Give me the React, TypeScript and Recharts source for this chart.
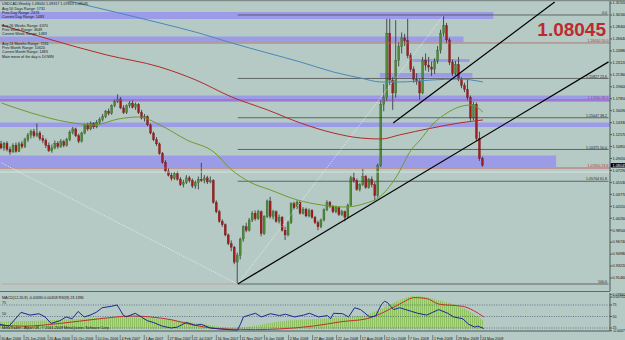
import React from 'react';
import { ComposedChart, Bar, Line, Area, XAxis, YAxis, ReferenceLine, ReferenceArea } from 'recharts';

const BG = '#b6cac5';
const FONT = 'Liberation Sans, Arial, sans-serif';
const TOTAL = 204;

const dateLabels = ['30 Apr 2006', '25 Jun 2006', '20 Aug 2006', '15 Oct 2006', '10 Dec 2006', '4 Feb 2007', '1 Apr 2007', '27 May 2007', '22 Jul 2007', '16 Sep 2007', '11 Nov 2007', '6 Jan 2008', '2 Mar 2008', '27 Apr 2008', '22 Jun 2008', '17 Aug 2008', '12 Oct 2008', '7 Dec 2008', '1 Feb 2009', '29 Mar 2009', '24 May 2009'];

const opens = [1.1120,1.1060,1.1130,1.1040,1.1000,1.1100,1.1010,1.1120,1.1080,1.1180,
1.1250,1.1300,1.1240,1.1280,1.1200,1.1170,1.1100,1.1020,1.1060,1.1130,
1.1080,1.1150,1.1100,1.1180,1.1290,1.1340,1.1240,1.1160,1.1280,1.1400,
1.1340,1.1420,1.1370,1.1440,1.1480,1.1520,1.1600,1.1570,1.1680,1.1740,
1.1780,1.1650,1.1580,1.1680,1.1720,1.1660,1.1700,1.1580,1.1500,1.1520,
1.1400,1.1280,1.1180,1.1120,1.0980,1.0850,1.0720,1.0660,1.0610,1.0680,
1.0600,1.0520,1.0550,1.0620,1.0580,1.0500,1.0550,1.0600,1.0580,1.0620,
1.0560,1.0580,1.0260,1.0120,0.9980,0.9930,0.9780,0.9650,0.9600,0.9380,
0.9480,0.9720,0.9900,0.9850,1.0000,1.0100,1.0020,1.0120,0.9800,1.0050,
1.0280,1.0050,1.0120,0.9980,1.0040,0.9850,0.9780,0.9960,1.0240,1.0180,
1.0260,1.0100,1.0160,1.0060,1.0140,1.0040,0.9960,0.9900,1.0000,1.0150,
1.0260,1.0200,1.0120,1.0180,1.0080,1.0120,1.0040,1.0220,1.0620,1.0580,
1.0450,1.0520,1.0640,1.0480,1.0600,1.0520,1.0360,1.0800,1.1700,1.1800,
1.2750,1.2060,1.1870,1.2350,1.2550,1.2680,1.2640,1.2420,1.2220,1.2070,
1.2040,1.1870,1.2350,1.2280,1.2250,1.2220,1.2340,1.2500,1.2750,1.2860,
1.2650,1.2320,1.2160,1.2290,1.2070,1.1980,1.1920,1.1800,1.1500,1.1700,
1.1200,1.0904];

const highs = [1.1165,1.1150,1.1160,1.1080,1.1130,1.1140,1.1150,1.1160,1.1210,1.1280,
1.1330,1.1340,1.1420,1.1310,1.1250,1.1200,1.1140,1.1110,1.1170,1.1160,
1.1190,1.1180,1.1210,1.1320,1.1370,1.1360,1.1270,1.1300,1.1420,1.1430,
1.1450,1.1440,1.1470,1.1510,1.1560,1.1620,1.1640,1.1700,1.1770,1.1850,
1.1810,1.1690,1.1700,1.1750,1.1760,1.1730,1.1720,1.1620,1.1560,1.1540,
1.1420,1.1300,1.1220,1.1140,1.1000,1.0880,1.0760,1.0700,1.0710,1.0720,
1.0630,1.0590,1.0660,1.0650,1.0610,1.0580,1.0640,1.0840,1.0660,1.0650,
1.0640,1.0600,1.0290,1.0150,1.0010,0.9950,0.9800,0.9700,0.9620,0.9520,
0.9740,0.9920,0.9960,1.0030,1.0130,1.0140,1.0150,1.0140,1.0070,1.0300,
1.0340,1.0150,1.0140,1.0080,1.0060,0.9900,0.9990,1.0260,1.0270,1.0290,
1.0280,1.0190,1.0180,1.0170,1.0160,1.0060,0.9990,1.0020,1.0170,1.0290,
1.0280,1.0220,1.0210,1.0200,1.0150,1.0140,1.0240,1.0650,1.0700,1.0610,
1.0540,1.0750,1.0660,1.0620,1.0640,1.0560,1.0830,1.1760,1.2000,1.2960,
1.2960,1.2100,1.2940,1.2620,1.2760,1.2740,1.2960,1.2460,1.2260,1.2160,
1.2080,1.2400,1.2450,1.2400,1.2330,1.2380,1.2560,1.2800,1.3017,1.2900,
1.2680,1.2360,1.2340,1.2400,1.2100,1.2020,1.2060,1.1830,1.1740,1.1730,
1.1300,1.09317];

const lows = [1.1040,1.1020,1.1010,1.0960,1.0990,1.0990,1.1000,1.1050,1.1060,1.1150,
1.1200,1.1210,1.1220,1.1170,1.1130,1.1060,1.1000,1.0990,1.1040,1.1050,
1.1060,1.1070,1.1080,1.1160,1.1260,1.1220,1.1130,1.1140,1.1260,1.1310,
1.1320,1.1340,1.1350,1.1410,1.1450,1.1500,1.1540,1.1550,1.1660,1.1720,
1.1630,1.1560,1.1560,1.1650,1.1640,1.1620,1.1560,1.1480,1.1450,1.1380,
1.1260,1.1160,1.1090,1.0960,1.0830,1.0700,1.0640,1.0580,1.0590,1.0580,
1.0500,1.0480,1.0530,1.0550,1.0470,1.0460,1.0450,1.0560,1.0540,1.0530,
1.0540,1.0240,1.0100,0.9960,0.9900,0.9760,0.9630,0.9540,0.9350,0.9058,
0.9420,0.9680,0.9820,0.9830,0.9970,0.9990,1.0000,0.9760,0.9780,1.0030,
1.0020,1.0010,0.9960,0.9950,0.9830,0.9706,0.9760,0.9940,1.0150,1.0160,
1.0080,1.0080,1.0040,1.0040,1.0020,0.9940,0.9850,0.9880,0.9980,1.0130,
1.0180,1.0100,1.0100,1.0060,1.0060,0.9980,1.0020,1.0200,1.0550,1.0430,
1.0420,1.0500,1.0460,1.0460,1.0480,1.0290,1.0330,1.0780,1.1600,1.1750,
1.1980,1.1620,1.1800,1.2260,1.2450,1.2560,1.2380,1.2180,1.2020,1.1990,
1.1770,1.1850,1.2200,1.2180,1.2120,1.2150,1.2300,1.2450,1.2700,1.2600,
1.2280,1.2120,1.2130,1.2040,1.1940,1.1880,1.1760,1.1460,1.1470,1.1160,
1.0870,1.07833];

const closes = [1.1060,1.1130,1.1040,1.1000,1.1100,1.1010,1.1120,1.1080,1.1180,1.1250,
1.1300,1.1240,1.1280,1.1200,1.1170,1.1100,1.1020,1.1060,1.1130,1.1080,
1.1150,1.1100,1.1180,1.1290,1.1340,1.1240,1.1160,1.1280,1.1400,1.1340,
1.1420,1.1370,1.1440,1.1480,1.1520,1.1600,1.1570,1.1680,1.1740,1.1780,
1.1650,1.1580,1.1680,1.1720,1.1660,1.1700,1.1580,1.1500,1.1520,1.1400,
1.1280,1.1180,1.1120,1.0980,1.0850,1.0720,1.0660,1.0610,1.0680,1.0600,
1.0520,1.0550,1.0620,1.0580,1.0500,1.0550,1.0600,1.0580,1.0620,1.0560,
1.0580,1.0260,1.0120,0.9980,0.9930,0.9780,0.9650,0.9600,0.9380,0.9480,
0.9720,0.9900,0.9850,1.0000,1.0100,1.0020,1.0120,0.9800,1.0050,1.0280,
1.0050,1.0120,0.9980,1.0040,0.9850,0.9780,0.9960,1.0240,1.0180,1.0260,
1.0100,1.0160,1.0060,1.0140,1.0040,0.9960,0.9900,1.0000,1.0150,1.0260,
1.0200,1.0120,1.0180,1.0080,1.0120,1.0040,1.0220,1.0620,1.0580,1.0450,
1.0520,1.0640,1.0480,1.0600,1.0520,1.0360,1.0800,1.1700,1.1800,1.2750,
1.2060,1.1870,1.2350,1.2550,1.2680,1.2640,1.2420,1.2220,1.2070,1.2040,
1.1870,1.2350,1.2280,1.2250,1.2220,1.2340,1.2500,1.2750,1.2860,1.2650,
1.2320,1.2160,1.2290,1.2070,1.1980,1.1920,1.1800,1.1500,1.1700,1.1200,
1.0904,1.08045];

// moving averages: [week index, price]
const blueMA: [number, number][] = [[0,1.346],[21,1.3238],[53,1.2899],[66,1.2752],[77,1.2605],[89,1.2458],[100,1.2325],[111,1.2178],[120,1.2090],[127,1.2031],[133,1.2031],[144,1.2060],[153,1.2075],[161,1.2031]];
const redMA: [number, number][] = [[0,1.2870],[16,1.2660],[35,1.2430],[53,1.2251],[65,1.2060],[77,1.1810],[89,1.1619],[100,1.1427],[111,1.1280],[120,1.1207],[127,1.1192],[133,1.1251],[144,1.1354],[153,1.1427],[161,1.1472]];
const oliveMA: [number, number][] = [[0,1.1722],[10,1.1575],[22,1.1442],[31,1.1398],[39,1.1486],[46,1.1516],[53,1.1398],[62,1.1177],[71,1.1001],[77,1.0736],[83,1.0559],[90,1.0441],[99,1.0294],[107,1.0221],[115,1.0191],[122,1.0250],[126,1.0324],[132,1.0633],[137,1.1030],[140,1.1177],[144,1.1398],[149,1.1575],[153,1.1663],[157,1.1692],[161,1.1589]];

// lower pane
const rsiPts: [number, number][] = [[0,33],[3,29],[7,59],[10,53],[13,56],[15,49],[17,35],[20,41],[22,49],[24,45],[26,61],[28,49],[30,53],[32,59],[34,69],[37,72],[39,75],[41,53],[42,49],[45,57],[47,49],[49,41],[51,37],[54,29],[57,25],[59,27],[62,37],[65,31],[67,33],[70,25],[73,23],[75,22],[79,20],[80,33],[81,49],[83,53],[85,57],[87,49],[90,56],[93,52],[95,55],[98,49],[101,53],[103,57],[106,49],[109,52],[110,45],[111,57],[114,56],[116,49],[118,69],[120,65],[123,49],[125,51],[127,77],[128,83],[129,80],[130,72],[131,65],[133,69],[137,61],[139,57],[142,53],[144,59],[146,65],[149,57],[151,49],[154,45],[156,33],[158,27],[159,29],[161,24]];
const signalPts: [number, number][] = [[0,31],[8,29],[20,35],[33,45],[44,51],[50,49],[57,43],[64,32],[72,24],[80,22],[85,21.5],[93,23],[104,29],[114,39],[122,45],[127,57],[133,77],[138,91],[142,89],[146,77],[154,72],[161,49]];
const histPts: [number, number][] = [[0,39],[13,41],[26,45],[40,49],[53,45],[66,35],[78,25],[82,27],[93,39],[106,45],[120,51],[126,64],[133,85],[138,95],[146,85],[154,69],[161,41]];

const priceTicks = [0.9146,0.9322,0.9498,0.9674,0.9850,1.0026,1.0201,1.0377,1.0553,1.0729,1.0905,1.1081,1.1257,1.1433,1.1609,1.1785,1.1960,1.2136,1.2312,1.2488,1.2664,1.2840,1.3016,1.3192];
const subTicks = [19, 25, 50, 75, 92, 98];
const subTickText = ['-0.0447', '25', '50', '75', '0.00702', '0.07660'];

const bands = [
  { x1: 0, x2: 164, p1: 1.2958, p2: 1.3061 },
  { x1: 0, x2: 154, p1: 1.2620, p2: 1.2700 },
  { x1: 138, x2: 156, p1: 1.2325, p2: 1.2369 },
  { x1: 127, x2: 157, p1: 1.2097, p2: 1.2163 },
  { x1: null, x2: null, p1: 1.1736, p2: 1.1832 },
  { x1: null, x2: null, p1: 1.1369, p2: 1.1435 },
  { x1: 0, x2: 185, p1: 1.0780, p2: 1.0949 },
];

const fibLevels = [
  { p: 1.3017, t: '0.0' },
  { p: 1.2083, t: '1.20827  23.6' },
  { p: 1.1505, t: '1.15047  38.2' },
  { p: 1.1038, t: '1.10375  50.0' },
  { p: 1.0570, t: '1.05704  61.8' },
  { p: 0.9058, t: '100.0' },
];
const fibStart = 79;
const fibEnd = 203;

const extraLines = [
  { p: 1.2605, stroke: '#a86060', t: '1.26050  50.0', tc: '#b02a2a' },
  { p: 1.1766, stroke: '#a048a8', t: '1.17660  38.2', tc: '#9a3a9a' },
  { p: 1.0765, stroke: '#c05050', t: '1.07650  23.6', tc: '#c02a2a' },
  { p: 1.0706, stroke: '#e2e6e6', t: '', tc: '#333' },
];

const trendLines: [number, number, number, number][] = [
  [79, 0.9058, 203, 1.2327],
  [131, 1.1427, 185, 1.3209],
];
const dottedLines: [number, number, number, number][] = [
  [0, 1.084, 79, 0.9058],
  [79, 0.9058, 148, 1.3017],
];

const lastPrice = 1.08045;

const infoLines = [
  { y: 4.5, t: 'USDCAD,Weekly  1.09040 1.09317 1.07833 1.08045' },
  { y: 9.5, t: 'Avg 50 Days Range: 1731' },
  { y: 13.8, t: 'Prev Day Range: 2676' },
  { y: 18, t: 'Current Day Range: 1483' },
  { y: 26.5, t: 'Avg 26 Weeks Range: 6370' },
  { y: 30.8, t: 'Prev Week Range: 4649' },
  { y: 35.2, t: 'Current Week Range: 1483' },
  { y: 44.5, t: 'Avg 24 Months Range: 7231' },
  { y: 48.8, t: 'Prev Month Range: 10620' },
  { y: 53.2, t: 'Current Month Range: 1483' },
  { y: 57.8, t: 'Main move of the day is DOWN' },
];

const toMap = (pts: [number, number][]) => {
  const m: Record<number, number> = {};
  pts.forEach(([i, v]) => { m[i] = v; });
  return m;
};
const bm = toMap(blueMA), rm = toMap(redMA), om = toMap(oliveMA);
const rsm = toMap(rsiPts), sgm = toMap(signalPts), hm = toMap(histPts);

const rows = Array.from({ length: TOTAL }, (_, i) => ({
  i,
  o: opens[i], h: highs[i], l: lows[i], c: closes[i],
  blue: bm[i], red: rm[i], olive: om[i],
  rsi: rsm[i], sig: sgm[i], hist: hm[i],
}));

const Candle = (props: any) => {
  const { x, y, width, height, payload } = props;
  if (!payload || payload.o == null || x == null) return null;
  const { o, h, l, c } = payload;
  const top = Math.min(y, y + height);
  const bot = Math.max(y, y + height);
  const span = h - l;
  const py = (v: number) => (span === 0 ? top : top + ((h - v) / span) * (bot - top));
  const cx = x + width / 2;
  const up = c >= o;
  const bt = py(Math.max(o, c));
  const bb = py(Math.min(o, c));
  return (
    <g>
      <line x1={cx} x2={cx} y1={top} y2={bot} stroke="#2e2e2e" strokeWidth={0.8} />
      <rect x={x} y={bt} width={width} height={Math.max(0.8, bb - bt)} fill={up ? '#4e8a36' : '#a21d1d'} stroke={up ? '#2f5a22' : '#6a1010'} strokeWidth={0.3} />
    </g>
  );
};

const rightLabel = (text: string, color: string) => (props: any) => {
  const vb = props.viewBox;
  if (!vb || !text) return null;
  return (
    <text x={vb.x + vb.width - 1.5} y={vb.y - 0.8} textAnchor="end" fontSize={3.6} fill={color} fontFamily={FONT}>{text}</text>
  );
};

const priceTag = (props: any) => {
  const vb = props.viewBox;
  if (!vb) return null;
  const x = vb.x + vb.width;
  return (
    <g>
      <rect x={x + 0.5} y={vb.y - 2.2} width={16} height={4.4} fill="#000" />
      <text x={x + 2.5} y={vb.y + 1.4} fontSize={3.8} fill="#fff" fontFamily={FONT}>{lastPrice.toFixed(5)}</text>
    </g>
  );
};

const leftLabel = (text: string) => (props: any) => {
  const vb = props.viewBox;
  if (!vb) return null;
  return <text x={vb.x + 2} y={vb.y - 1} fontSize={3.8} fill="#1a2a4a" fontFamily={FONT}>{text}</text>;
};

const DateTick = (props: any) => {
  const { x, y, payload } = props;
  const i = Number(payload && payload.value);
  if (!(i % 8 === 0) || i / 8 >= dateLabels.length) return null;
  return (
    <g>
      <line x1={x} x2={x} y1={y + 2} y2={y + 7.5} stroke="#333" strokeWidth={0.5} />
      <text x={x + 1.2} y={y + 7.2} fontSize={3.7} fill="#111" fontFamily={FONT}>{dateLabels[i / 8]}</text>
    </g>
  );
};

export default function App() {
  return (
    <div style={{ position: 'absolute', left: 0, top: 0, width: 625, height: 340, background: BG, overflow: 'hidden', pointerEvents: 'none' }}>
      <div style={{ position: 'absolute', left: 0, top: 0 }}>
        <ComposedChart width={625} height={291} data={rows} margin={{ top: 0, right: 0, bottom: 0, left: 0 }}>
          <XAxis dataKey="i" type="category" hide />
          <YAxis
            orientation="right"
            width={15}
            type="number"
            domain={[0.8955, 1.32375]}
            allowDataOverflow
            ticks={priceTicks}
            interval={0}
            tickFormatter={(v: number) => v.toFixed(5)}
            tick={{ fontSize: 3.8, fill: '#111', fontFamily: FONT }}
            tickSize={2}
            tickMargin={0.5}
            axisLine={{ stroke: '#4a5856' }}
            tickLine={{ stroke: '#4a5856' }}
          />
          {bands.map((b, k) => (
            <ReferenceArea
              key={'b' + k}
              {...(b.x1 != null ? { x1: b.x1, x2: b.x2 } : {})}
              y1={b.p1}
              y2={b.p2}
              fill="#9c9be8"
              fillOpacity={1}
              stroke="none"
            />
          ))}
          {extraLines.map((e, k) => (
            <ReferenceLine key={'e' + k} y={e.p} stroke={e.stroke} strokeWidth={0.8} label={rightLabel(e.t, e.tc)} />
          ))}
          {fibLevels.map((f, k) => (
            <ReferenceLine
              key={'f' + k}
              segment={[{ x: fibStart, y: f.p }, { x: fibEnd, y: f.p }]}
              stroke="#3a3a3a"
              strokeWidth={0.7}
              label={rightLabel(f.t, '#222')}
            />
          ))}
          <ReferenceLine segment={[{ x: 0, y: 0.9058 }, { x: fibStart, y: 0.9058 }]} stroke="#c89090" strokeWidth={0.7} />
          {dottedLines.map((d, k) => (
            <ReferenceLine key={'d' + k} segment={[{ x: d[0], y: d[1] }, { x: d[2], y: d[3] }]} stroke="#f4f4f4" strokeWidth={0.7} strokeDasharray="1.2 1.2" />
          ))}
          <Line type="monotone" dataKey="blue" stroke="#4a88b8" strokeWidth={1} dot={false} activeDot={false} connectNulls isAnimationActive={false} />
          <Line type="monotone" dataKey="red" stroke="#b02a2a" strokeWidth={1} dot={false} activeDot={false} connectNulls isAnimationActive={false} />
          <Line type="monotone" dataKey="olive" stroke="#6e9a30" strokeWidth={1} dot={false} activeDot={false} connectNulls isAnimationActive={false} />
          <Bar dataKey={(d: any) => (d.h == null ? undefined : [d.l, d.h])} barSize={2} shape={<Candle />} activeBar={false} isAnimationActive={false} />
          {trendLines.map((t, k) => (
            <ReferenceLine key={'t' + k} segment={[{ x: t[0], y: t[1] }, { x: t[2], y: t[3] }]} stroke="#000" strokeWidth={1.2} />
          ))}
          <ReferenceLine y={lastPrice} stroke="none" label={priceTag} />
        </ComposedChart>
      </div>
      <div style={{ position: 'absolute', left: 0, top: 291, width: 610, height: 1, background: '#5d6b69' }} />
      <div style={{ position: 'absolute', left: 0, top: 292 }}>
        <ComposedChart width={625} height={48} data={rows} margin={{ top: 1, right: 0, bottom: 0, left: 0 }}>
          <defs>
            <pattern id="histStripes" width="2" height="4" patternUnits="userSpaceOnUse">
              <rect x="0" y="0" width="1.2" height="4" fill="#8fc062" />
              <rect x="1.2" y="0" width="0.8" height="4" fill="#b4d49a" />
            </pattern>
          </defs>
          <XAxis
            dataKey="i"
            type="category"
            interval={0}
            height={9}
            tick={<DateTick />}
            tickLine={false}
            tickSize={0}
            axisLine={{ stroke: '#4a5856' }}
          />
          <YAxis
            orientation="right"
            width={15}
            type="number"
            domain={[18.5, 101]}
            allowDataOverflow
            ticks={subTicks}
            interval={0}
            tickFormatter={(v: number) => subTickText[subTicks.indexOf(v)] || ''}
            tick={{ fontSize: 3.6, fill: '#111', fontFamily: FONT }}
            tickSize={2}
            tickMargin={0.5}
            axisLine={{ stroke: '#4a5856' }}
            tickLine={{ stroke: '#4a5856' }}
          />
          <Area type="monotone" dataKey="hist" baseValue={24} stroke="none" fill="url(#histStripes)" fillOpacity={1} activeDot={false} connectNulls isAnimationActive={false} />
          <ReferenceLine y={75} stroke="#2a3e6a" strokeWidth={0.6} strokeDasharray="1 1.4" label={leftLabel('75')} />
          <ReferenceLine y={50} stroke="#2a3e6a" strokeWidth={0.6} strokeDasharray="1 1.4" label={leftLabel('50')} />
          <ReferenceLine y={25} stroke="#2a3e6a" strokeWidth={0.6} strokeDasharray="1 1.4" />
          <Line type="monotone" dataKey="sig" stroke="#c0302c" strokeWidth={1} dot={false} activeDot={false} connectNulls isAnimationActive={false} />
          <Line type="linear" dataKey="rsi" stroke="#1c2a8c" strokeWidth={1} dot={false} activeDot={false} connectNulls isAnimationActive={false} />
        </ComposedChart>
      </div>
      <svg width={625} height={340} style={{ position: 'absolute', left: 0, top: 0, pointerEvents: 'none' }}>
        <rect x={0} y={0} width={625} height={1.2} fill="#7e8a88" />
        {infoLines.map((l, k) => (
          <text key={k} x={2} y={l.y} fontSize={3.7} fill="#101828" fontFamily={FONT}>{l.t}</text>
        ))}
        <text x={606} y={35.5} textAnchor="end" fontSize={19} fontWeight="bold" fill="#bd2a2e" fontFamily={FONT}>1.08045</text>
        <text x={2} y={298.5} fontSize={3.7} fill="#111" fontFamily={FONT}>MACD(12,26,9) -0.01690 0.00658  RSI(9) 23.1396</text>
        <text x={2} y={329} fontSize={3.7} fill="#111" fontFamily={FONT}>MetaTrader - Alpari UK, © 2001-2009 MetaQuotes Software Corp.</text>
      </svg>
    </div>
  );
}
